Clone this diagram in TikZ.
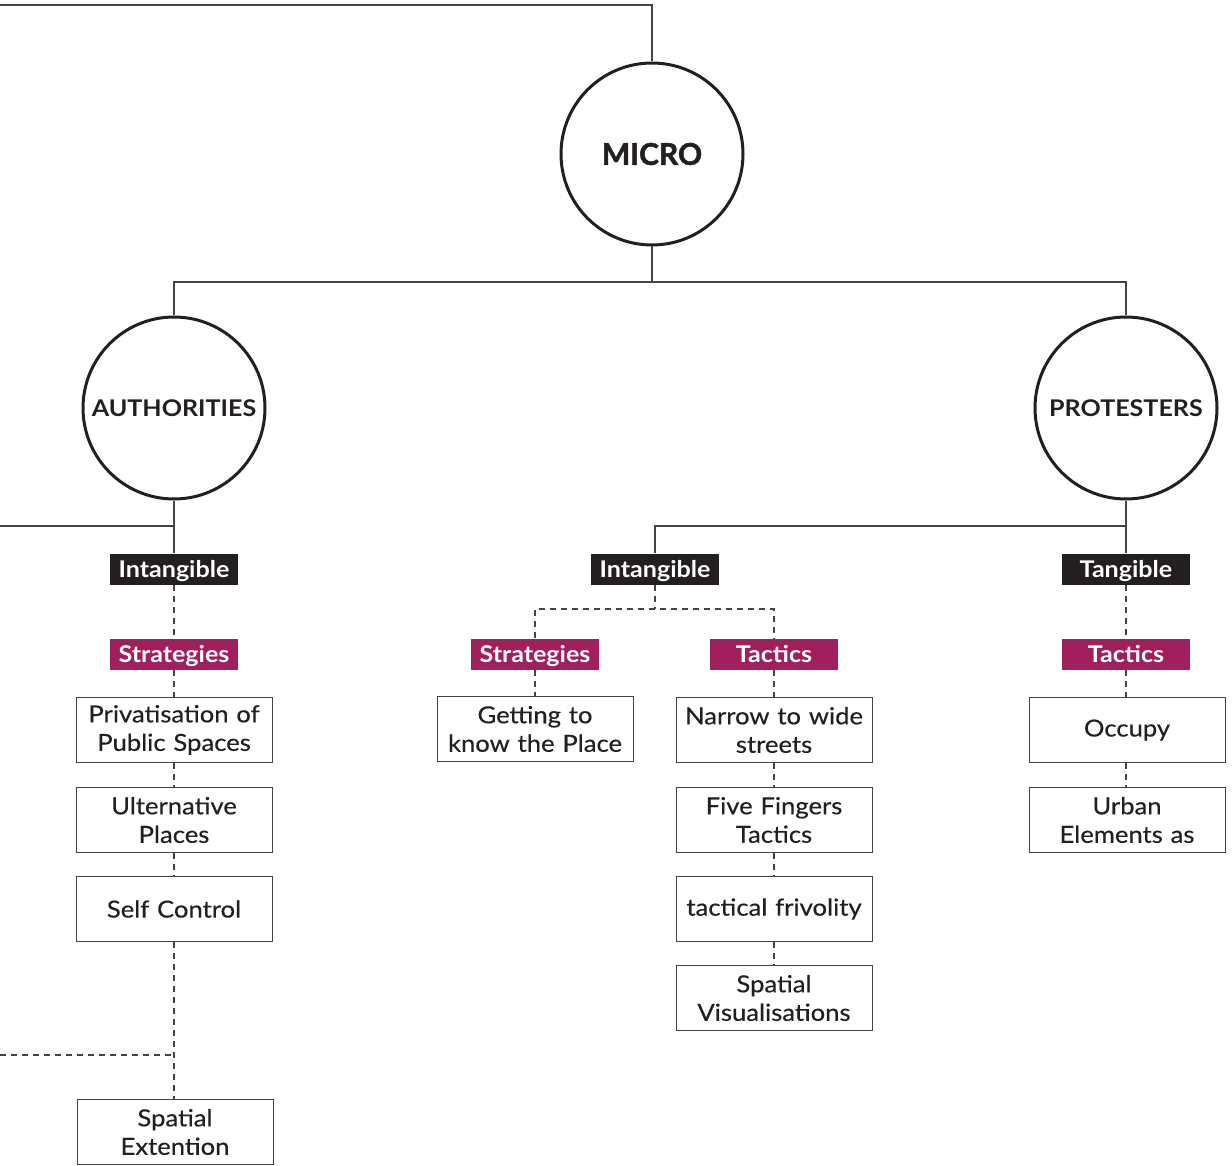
\documentclass[tikz,border=0pt]{standalone}
\usepackage{fontspec}
\setmainfont{Lato}[FakeStretch=1.09, UprightFeatures={FakeBold=0.35}]
\newfontfamily\heavyface{Lato}[BoldFeatures={FakeBold=1.6}]
\usetikzlibrary{calc}
\definecolor{ink}{HTML}{231F20}
\definecolor{plum}{HTML}{A21F5E}
\definecolor{wire}{HTML}{444444}
\tikzset{
  hub/.style={circle, draw=ink, line width=3pt, minimum size=182pt, inner sep=0pt,
    font=\fontsize{23}{26}\selectfont\bfseries, text=ink},
  tagdark/.style={fill=ink, text=white, minimum width=128pt, minimum height=31pt,
    inner sep=0pt, text depth=1pt, font=\fontsize{23}{26}\selectfont\bfseries},
  tagplum/.style={tagdark, fill=plum},
  item/.style={draw=wire, line width=1pt, fill=white, text=ink, minimum width=196pt,
    minimum height=65pt, inner sep=0pt, align=center, text width=190pt,
    font=\fontsize{23.5}{28.5}\selectfont},
  solidlink/.style={draw=wire, line width=1.2pt},
  dashlink/.style={draw=wire, line width=1.2pt, dash pattern=on 6pt off 5pt},
}
\begin{document}
\begin{tikzpicture}[x=1pt,y=-1pt]
\useasboundingbox (0,0) rectangle (1232,1166);

% level 1 and 2
\node[hub, font=\heavyface\fontsize{30}{32}\selectfont\bfseries] (micro) at (652,154) {MICRO};
\node[hub] (auth) at (174,408) {AUTHORITIES};
\node[hub] (prot) at (1126,408) {PROTESTERS};

\coordinate (topleft) at (0,5);
\coordinate (split) at (652,282);
\coordinate (authleft) at (0,526);
\coordinate (protjoin) at (1126,526);
\coordinate (intjoin) at (655,609);
\coordinate (extleft) at (0,1055);

% category tags
\node[tagdark] (aint) at (174,569) {Intangible};
\node[tagplum] (astr) at (174,654) {Strategies};
\node[tagdark] (pint) at (655,569) {Intangible};
\node[tagdark] (ptan) at (1126,569) {Tangible};
\node[tagplum] (pstr) at (535,654) {Strategies};
\node[tagplum] (ptac) at (774,654) {Tactics};
\node[tagplum] (ttac) at (1126,654) {Tactics};

% authorities items
\node[item] (a1) at (174,730) {Privatisation of\\Public Spaces};
\node[item] (a2) at (174,820) {Ulternative\\Places};
\node[item] (a3) at (174,909) {Self Control};
\node[item] (a4) at (175,1132) {Spatial\\Extention};

% protesters, intangible
\node[item] (s1) at (535,729) {Getting to\\know the Place};
\node[item] (t1) at (774,730) {Narrow to wide\\streets};
\node[item] (t2) at (774,820) {Five Fingers\\Tactics};
\node[item] (t3) at (774,909) {tactical frivolity};
\node[item] (t4) at (774,998) {Spatial\\Visualisations};

% protesters, tangible
\node[item] (g1) at (1127,730) {Occupy};
\node[item] (g2) at (1127,820) {Urban\\Elements as};

% solid hierarchy
\draw[solidlink] (topleft) -| (micro.north);
\draw[solidlink] (micro.south) -- (split);
\draw[solidlink] (auth.north) -- (auth.north |- split) -- (prot.north |- split) -- (prot.north);
\draw[solidlink] (auth.south) |- (authleft);
\draw[solidlink] (auth.south) -- (aint.north);
\draw[solidlink] (prot.south) -- (ptan.north);
\draw[solidlink] (protjoin) -| (pint.north);

% dashed links
\draw[dashlink] (aint.south) -- (astr.north);
\draw[dashlink] (astr.south) -- (a1.north);
\draw[dashlink] (a1.south) -- (a2.north);
\draw[dashlink] (a2.south) -- (a3.north);
\draw[dashlink] (a3.south) -- (a3.south |- a4.north);
\draw[dashlink] (extleft) -- (a3.south |- extleft);

\draw[dashlink] (pint.south) -- (intjoin);
\draw[dashlink] (pstr.north) |- (intjoin) -| (ptac.north);
\draw[dashlink] (pstr.south) -- (s1.north);
\draw[dashlink] (ptac.south) -- (t1.north);
\draw[dashlink] (t1.south) -- (t2.north);
\draw[dashlink] (t2.south) -- (t3.north);
\draw[dashlink] (t3.south) -- (t4.north);

\draw[dashlink] (ptan.south) -- (ttac.north);
\draw[dashlink] (ttac.south) -- (ttac.south |- g1.north);
\draw[dashlink] (ttac.south |- g1.south) -- (ttac.south |- g2.north);
\end{tikzpicture}
\end{document}
